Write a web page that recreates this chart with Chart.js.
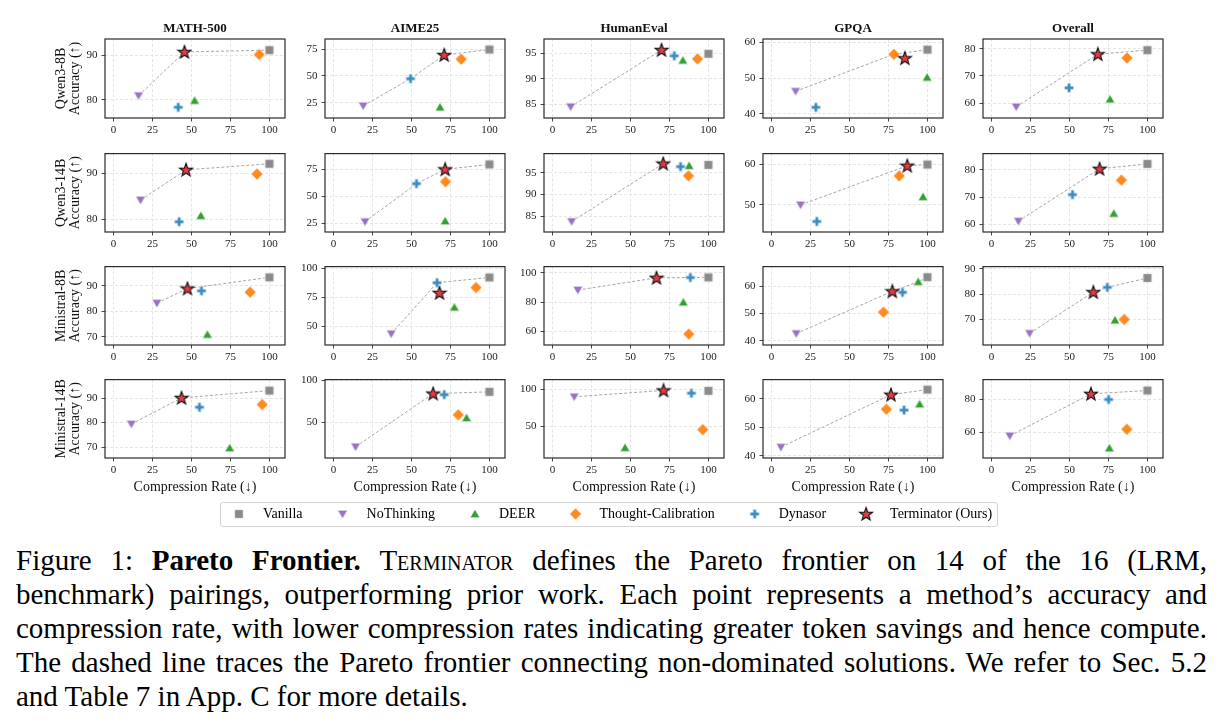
<!DOCTYPE html>
<html>
<head>
<meta charset="utf-8">
<script src="https://cdn.jsdelivr.net/npm/chart.js@4.4.0/dist/chart.umd.min.js"></script>
<style>
  body { margin: 0; background: #fff; width: 1225px; height: 723px; overflow: hidden; position: relative;
         font-family: 'Liberation Serif', 'Times New Roman', serif; }
  canvas { position: absolute; }
  #legendBox { position: absolute; left: 220px; top: 502px; width: 776px; height: 23px;
               border: 1px solid #d4d4d4; border-radius: 3px; }
  #caption { position: absolute; left: 16px; top: 543px; width: 1191px; font-size: 29px; line-height: 34px; color: #000; }
  #caption .ln { text-align: justify; text-align-last: justify; height: 34px; }
  #caption .ln.last { text-align-last: left; }
  .sc { font-variant: small-caps; }
</style>
</head>
<body>
<div id="legendBox"></div>
<div id="caption">
  <div class="ln">Figure 1: <b>Pareto Frontier.</b> <span class="sc">Terminator</span> defines the Pareto frontier on 14 of the 16 (LRM,</div>
  <div class="ln">benchmark) pairings, outperforming prior work. Each point represents a method’s accuracy and</div>
  <div class="ln">compression rate, with lower compression rates indicating greater token savings and hence compute.</div>
  <div class="ln">The dashed line traces the Pareto frontier connecting non-dominated solutions. We refer to Sec. 5.2</div>
  <div class="ln last">and Table 7 in App. C for more details.</div>
</div>
<script>
// categorias
const MODELS = ['Qwen3-8B', 'Qwen3-14B', 'Ministral-8B', 'Ministral-14B'];
const BENCHMARKS = ['MATH-500', 'AIME25', 'HumanEval', 'GPQA', 'Overall'];
const METHODS = ['Vanilla', 'NoThinking', 'DEER', 'Thought-Calibration', 'Dynasor', 'Terminator (Ours)'];
const X_TICKS = [0, 25, 50, 75, 100];

// valores por metodo, 20 paneles en orden fila (modelo) x columna (benchmark)
const vanillaRate = [100, 100, 100, 100, 100, 100, 100, 100, 100, 100, 100, 100, 100, 100, 100, 100, 100, 100, 100, 100];
const vanillaAcc = [91.1, 74.5, 94.9, 58.0, 79.5, 92.0, 79.6, 96.8, 60.0, 82.2, 93.3, 92.3, 96.9, 63.4, 86.4, 93.1, 86.6, 98.2, 63.2, 85.4];
const noThinkingRate = [16, 19, 11.6, 15.4, 15.8, 17.3, 20.2, 12.2, 18.6, 17.2, 27.8, 37, 16.2, 15.8, 24.4, 11.4, 14.1, 13.9, 6, 11.7];
const noThinkingAcc = [80.9, 22.3, 84.5, 46.3, 58.6, 84.2, 26.5, 83.8, 50.0, 61.1, 83.2, 43.7, 88.2, 42.6, 64.5, 79.4, 21.2, 90.1, 43.0, 58.0];
const deerRate = [52, 68.3, 83.6, 99.8, 76, 56, 71.6, 87.6, 97.2, 78.4, 60.2, 77.5, 83.9, 94.1, 79.2, 74.5, 85.3, 46.5, 95, 75.6];
const deerAcc = [79.8, 21, 93.6, 50.2, 61.4, 80.8, 27.1, 96.6, 52, 63.9, 70.9, 66.5, 79.8, 61.7, 69.7, 69.6, 55.6, 20.7, 58.1, 50.6];
const thoughtCalRate = [93.5, 81.9, 93, 78.5, 86.9, 92, 71.8, 87.2, 81.9, 83.3, 87.6, 91.4, 87.4, 71.8, 85.1, 95.4, 80, 96.4, 73.7, 86.8];
const thoughtCalAcc = [90.1, 65.6, 93.9, 56.7, 76.6, 89.8, 63.5, 94.3, 57.2, 76.2, 87.5, 83.6, 58.0, 50.5, 70.0, 87.4, 59.3, 45.5, 56.3, 62.0];
const dynasorRate = [41.5, 49.4, 78.1, 28.4, 49.7, 42.1, 53.2, 82.1, 29, 51.9, 56.4, 66.4, 88.4, 84, 74.3, 55.1, 71, 89.1, 85, 75.1];
const dynasorAcc = [78.3, 47.5, 94.5, 41.8, 65.6, 79.5, 61.7, 96.4, 45.9, 70.9, 88.0, 87.8, 96.8, 57.8, 82.7, 86.3, 83.3, 95.0, 56.0, 80.0];
const terminatorRate = [45.5, 71, 69.9, 85.5, 68.2, 46.5, 71.6, 71, 87.1, 69.3, 47.4, 68, 66.7, 77.5, 65.3, 43.6, 63.9, 71.2, 76.6, 63.8];
const terminatorAcc = [90.7, 69.4, 95.65, 55.6, 78.0, 90.7, 75.0, 97.1, 59.7, 80.4, 88.9, 79.0, 96.6, 58.2, 80.8, 90.1, 84.5, 98.8, 61.4, 83.4];

// frontera de Pareto: indices de METHODS en orden
const paretoPaths = [
  [1, 5, 0], [1, 4, 5, 0], [1, 5], [1, 3, 0], [1, 5, 0],
  [1, 5, 0], [1, 4, 5, 0], [1, 5], [1, 5, 0], [1, 5, 0],
  [1, 5, 0], [1, 4, 0], [1, 5, 4, 0], [1, 5, 2, 0], [1, 5, 4, 0],
  [1, 5, 0], [1, 5, 0], [1, 5], [1, 5, 0], [1, 5, 0]
];

// ticks y limites del eje Y por panel
const yTicks = [
  [80, 90], [25, 50, 75], [85, 90, 95], [40, 50, 60], [60, 70, 80],
  [80, 90], [25, 50, 75], [85, 90, 95], [50, 60], [60, 70, 80],
  [70, 80, 90], [50, 75, 100], [60, 80, 100], [40, 50, 60], [70, 80, 90],
  [70, 80, 90], [50, 100], [50, 100], [40, 50, 60], [60, 80]
];
const yLimits = [
  [75.9, 93.6], [11, 84.3], [82.3, 97.8], [38.8, 61], [54.5, 83.6],
  [77.3, 94.2], [16.9, 89.6], [81.4, 99.4], [43.3, 62.7], [57.1, 86],
  [66.8, 97.5], [34, 101.7], [50.5, 104.3], [38.4, 67.3], [59.9, 90.9],
  [65.5, 97.6], [7.8, 101.2], [6.8, 113.5], [39.2, 66.7], [44.6, 92]
];

const RATES = [vanillaRate, noThinkingRate, deerRate, thoughtCalRate, dynasorRate, terminatorRate];
const ACCS = [vanillaAcc, noThinkingAcc, deerAcc, thoughtCalAcc, dynasorAcc, terminatorAcc];

// estilo
const FONT = "'Liberation Serif', 'Times New Roman', serif";
const COLORS = ['#8a8a8a', '#9a72c4', '#33a033', '#ff8a1f', '#3d8cbf', '#e53946'];
const SHAPES = ['square', 'down', 'up', 'diamond', 'plus', 'star'];
const COL_LEFT = [105, 325, 544, 763, 983];
const ROW_TOP = [39, 153, 266, 379];
const PLOT_W = 183;
const PLOT_H = 79;

function crearMarcador(forma, relleno) {
  const s = 16;
  const c = document.createElement('canvas');
  c.width = s; c.height = s;
  const g = c.getContext('2d');
  g.translate(s / 2, s / 2);
  g.beginPath();
  if (forma === 'square') {
    g.rect(-4.3, -4.3, 8.6, 8.6);
  } else if (forma === 'down') {
    g.moveTo(-4.9, -3.7); g.lineTo(4.9, -3.7); g.lineTo(0, 4.7); g.closePath();
  } else if (forma === 'up') {
    g.moveTo(-4.9, 3.7); g.lineTo(4.9, 3.7); g.lineTo(0, -4.7); g.closePath();
  } else if (forma === 'diamond') {
    g.moveTo(0, -5.9); g.lineTo(5.9, 0); g.lineTo(0, 5.9); g.lineTo(-5.9, 0); g.closePath();
  } else if (forma === 'plus') {
    const a = 4.7, b = 1.7;
    g.moveTo(-b, -a); g.lineTo(b, -a); g.lineTo(b, -b); g.lineTo(a, -b); g.lineTo(a, b); g.lineTo(b, b);
    g.lineTo(b, a); g.lineTo(-b, a); g.lineTo(-b, b); g.lineTo(-a, b); g.lineTo(-a, -b); g.lineTo(-b, -b); g.closePath();
  } else if (forma === 'star') {
    for (let i = 0; i < 10; i++) {
      const r = i % 2 === 0 ? 6.9 : 2.8;
      const ang = -Math.PI / 2 + i * Math.PI / 5;
      const px = r * Math.cos(ang), py = r * Math.sin(ang) + 0.4;
      if (i === 0) g.moveTo(px, py); else g.lineTo(px, py);
    }
    g.closePath();
  }
  g.fillStyle = relleno;
  g.fill();
  if (forma === 'star') {
    g.lineWidth = 1.1; g.strokeStyle = '#111';
  } else {
    g.lineWidth = 0.8; g.strokeStyle = 'rgba(255,255,255,0.75)';
  }
  g.stroke();
  return c;
}

const MARKERS = SHAPES.map((f, i) => crearMarcador(f, COLORS[i]));

const marcoPlugin = {
  id: 'marco',
  afterDraw(chart) {
    const { ctx, chartArea: a } = chart;
    ctx.save();
    ctx.strokeStyle = '#2a2a2a';
    ctx.lineWidth = 1.2;
    ctx.strokeRect(a.left, a.top, a.right - a.left, a.bottom - a.top);
    ctx.restore();
  }
};

function crearPanel(r, c) {
  const k = r * 5 + c;
  const yW = c === 0 ? 105 : 30;
  const xH = r === 3 ? 38 : 22;
  const padTop = r === 0 ? 0 : 10;
  const titleH = r === 0 ? 18 : 0;
  const padRight = 4;

  const canvas = document.createElement('canvas');
  canvas.width = yW + PLOT_W + padRight;
  canvas.height = padTop + titleH + PLOT_H + xH;
  canvas.style.left = (COL_LEFT[c] - yW) + 'px';
  canvas.style.top = (ROW_TOP[r] - padTop - titleH) + 'px';
  document.body.appendChild(canvas);

  const datasets = METHODS.map((m, i) => ({
    label: m,
    data: [{ x: RATES[i][k], y: ACCS[i][k] }],
    pointStyle: MARKERS[i],
    pointRadius: 6,
    order: 5 - i
  }));
  datasets.push({
    label: 'Pareto',
    data: paretoPaths[k].map(i => ({ x: RATES[i][k], y: ACCS[i][k] })),
    showLine: true,
    borderColor: '#9c9c9c',
    borderWidth: 0.9,
    borderDash: [3, 2],
    pointRadius: 0,
    order: 10
  });

  new Chart(canvas, {
    type: 'scatter',
    data: { datasets },
    options: {
      responsive: false,
      animation: false,
      events: [],
      clip: false,
      layout: { padding: { top: padTop, right: padRight, left: 0, bottom: 0 } },
      plugins: {
        legend: { display: false },
        tooltip: { enabled: false },
        title: {
          display: r === 0,
          text: BENCHMARKS[c],
          fullSize: false,
          color: '#111',
          font: { family: FONT, size: 13, weight: 'bold', lineHeight: '16px' },
          padding: { top: 0, bottom: 2 }
        }
      },
      scales: {
        x: {
          type: 'linear',
          min: -5.5,
          max: 110,
          afterBuildTicks: (s) => { s.ticks = X_TICKS.map(v => ({ value: v })); },
          afterFit: (s) => { s.height = xH; },
          ticks: { color: '#222', font: { family: FONT, size: 11 }, padding: 2.5, maxRotation: 0 },
          grid: { color: '#dedede', lineWidth: 0.8, tickColor: '#333', tickLength: 3.5, tickWidth: 0.9 },
          border: { display: false, dash: [3, 2] },
          title: {
            display: r === 3,
            text: 'Compression Rate (↓)',
            color: '#111',
            font: { family: FONT, size: 14 },
            padding: { top: 0, bottom: 0 }
          }
        },
        y: {
          type: 'linear',
          min: yLimits[k][0],
          max: yLimits[k][1],
          afterBuildTicks: (s) => { s.ticks = yTicks[k].map(v => ({ value: v })); },
          afterFit: (s) => { s.width = yW; },
          ticks: { color: '#222', font: { family: FONT, size: 11 }, padding: 4 },
          grid: { color: '#dedede', lineWidth: 0.8, tickColor: '#333', tickLength: 3.5, tickWidth: 0.9 },
          border: { display: false, dash: [3, 2] },
          title: {
            display: c === 0,
            text: [MODELS[r], 'Accuracy (↑)'],
            color: '#111',
            font: { family: FONT, size: 14, lineHeight: '13.5px' },
            padding: { top: 55, bottom: 0 }
          }
        }
      }
    },
    plugins: [marcoPlugin]
  });
}

for (let r = 0; r < MODELS.length; r++) {
  for (let c = 0; c < BENCHMARKS.length; c++) {
    crearPanel(r, c);
  }
}

// leyenda en su propio canvas
const legendCanvas = document.createElement('canvas');
legendCanvas.width = 900;
legendCanvas.height = 90;
legendCanvas.style.left = '157px';
legendCanvas.style.top = '484px';
document.body.appendChild(legendCanvas);

new Chart(legendCanvas, {
  type: 'scatter',
  data: { datasets: [] },
  options: {
    responsive: false,
    animation: false,
    events: [],
    scales: { x: { display: false }, y: { display: false } },
    plugins: {
      tooltip: { enabled: false },
      legend: {
        display: true,
        position: 'top',
        align: 'center',
        labels: {
          usePointStyle: true,
          pointStyleWidth: 34,
          padding: 23,
          color: '#1a1a1a',
          font: { family: FONT, size: 14 },
          generateLabels: () => METHODS.map((m, i) => ({
            text: m,
            pointStyle: MARKERS[i],
            fillStyle: COLORS[i],
            strokeStyle: COLORS[i],
            lineWidth: 0,
            hidden: false,
            datasetIndex: i
          }))
        }
      }
    }
  }
});
</script>
</body>
</html>
